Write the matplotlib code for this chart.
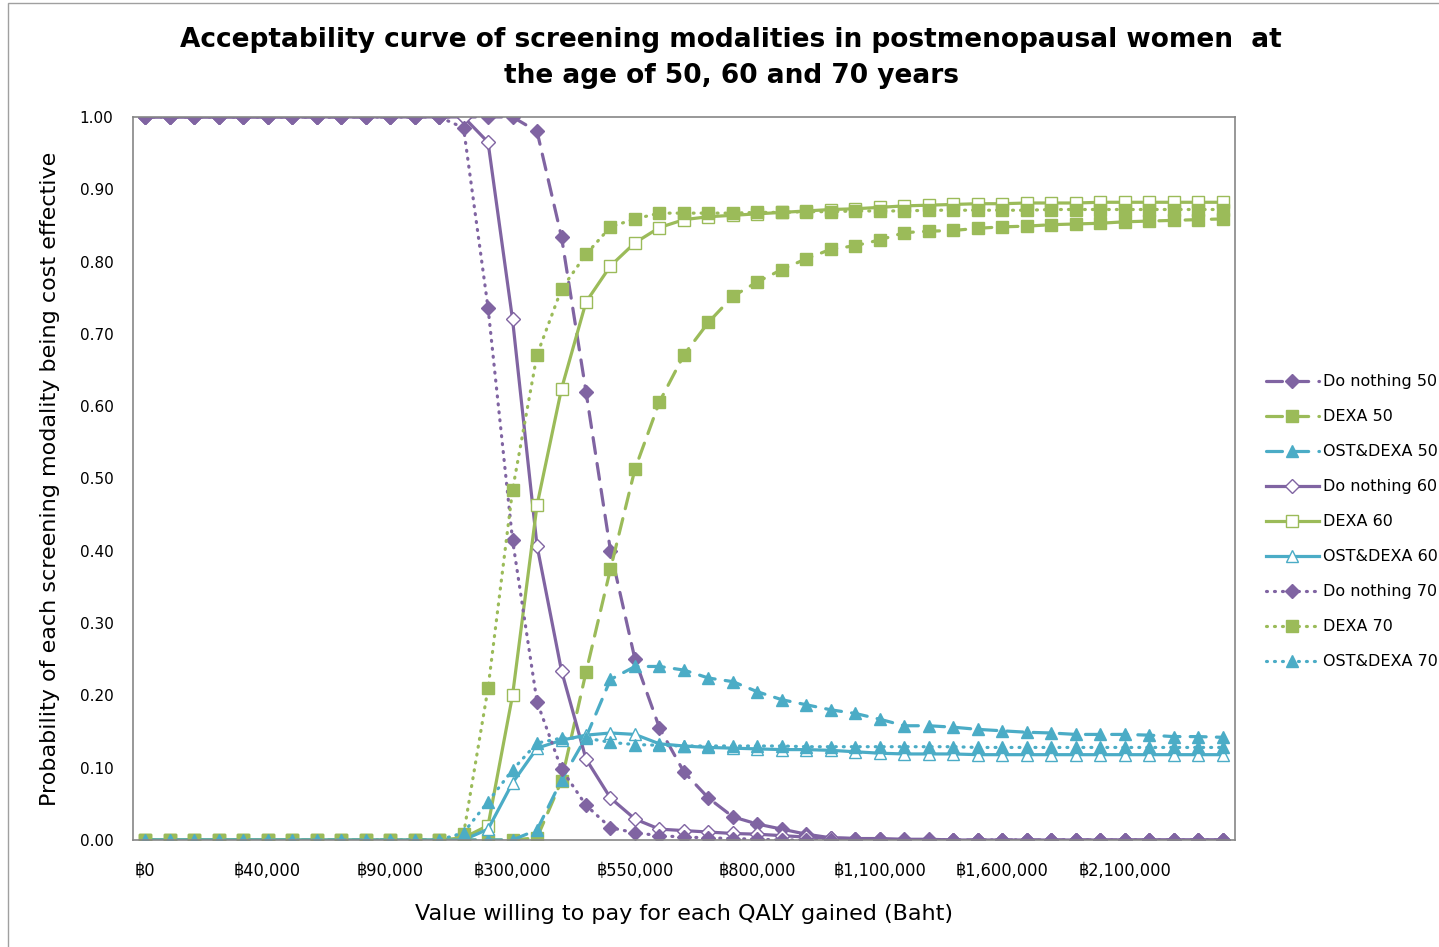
import matplotlib
matplotlib.use("Agg")
import matplotlib.pyplot as plt
from matplotlib.patches import Rectangle

# willingness to pay per QALY (Baht), one category per point
wtp = [0, 5000, 10000, 20000, 30000, 40000,
       50000, 60000, 70000, 80000, 90000,
       100000, 150000, 200000, 250000, 300000,
       350000, 400000, 450000, 500000, 550000,
       600000, 650000, 700000, 750000, 800000,
       900000, 950000, 1000000, 1050000, 1100000,
       1200000, 1300000, 1400000, 1500000, 1600000,
       1700000, 1800000, 1900000, 2000000, 2100000,
       2200000, 2300000, 2400000, 2500000]

ones = [1.0] * 13
zeros = [0.0] * 13

do_nothing_50 = ones + [1.0, 1.0, 1.0, 0.98, 0.834, 0.62, 0.40, 0.25, 0.155, 0.094,
                        0.058, 0.032, 0.022, 0.015, 0.008, 0.003, 0.002, 0.001] + [0.0] * 14
dexa_50 = zeros + [0.0, 0.0, 0.0, 0.003, 0.082, 0.232, 0.375, 0.513, 0.606, 0.671,
                   0.716, 0.752, 0.772, 0.789, 0.804, 0.817, 0.822, 0.830, 0.840,
                   0.842, 0.843, 0.846, 0.848, 0.849, 0.851, 0.852, 0.853, 0.855,
                   0.856, 0.857, 0.858, 0.859]
ost_50 = zeros + [0.0, 0.0, 0.0, 0.014, 0.083, 0.142, 0.222, 0.240, 0.240, 0.235,
                  0.224, 0.219, 0.205, 0.194, 0.187, 0.180, 0.175, 0.167, 0.158,
                  0.158, 0.156, 0.153, 0.151, 0.149, 0.148, 0.146, 0.146, 0.146,
                  0.145, 0.143, 0.143, 0.142]

do_nothing_60 = ones + [1.0, 0.965, 0.72, 0.407, 0.234, 0.112, 0.058, 0.029, 0.015,
                        0.013, 0.011, 0.009, 0.008, 0.006, 0.004, 0.003, 0.002, 0.002,
                        0.001, 0.001] + [0.0] * 12
dexa_60 = zeros + [0.003, 0.02, 0.20, 0.463, 0.624, 0.744, 0.794, 0.826, 0.847, 0.858,
                   0.862, 0.864, 0.866, 0.868, 0.870, 0.872, 0.873, 0.875, 0.877,
                   0.878, 0.879, 0.880, 0.880, 0.881, 0.881, 0.881, 0.882, 0.882,
                   0.882, 0.882, 0.882, 0.882]
ost_60 = zeros + [0.0, 0.015, 0.079, 0.127, 0.138, 0.145, 0.148, 0.146, 0.133, 0.130,
                  0.128, 0.127, 0.126, 0.125, 0.125, 0.124, 0.122, 0.120, 0.119,
                  0.119, 0.119, 0.118, 0.118, 0.118, 0.118, 0.118, 0.118, 0.118,
                  0.118, 0.118, 0.118, 0.118]

do_nothing_70 = ones[:-1] + [1.0, 0.985, 0.736, 0.415, 0.191, 0.098, 0.048, 0.017,
                             0.010, 0.006, 0.004, 0.003, 0.002, 0.001] + [0.0] * 19
dexa_70 = zeros + [0.008, 0.21, 0.484, 0.671, 0.762, 0.81, 0.848, 0.859, 0.867, 0.867,
                   0.867, 0.867, 0.868, 0.868, 0.869, 0.869, 0.870, 0.870, 0.870,
                   0.871, 0.871, 0.871, 0.871, 0.871, 0.872, 0.872, 0.872, 0.872,
                   0.872, 0.872, 0.872, 0.872]
ost_70 = zeros + [0.01, 0.053, 0.097, 0.134, 0.141, 0.141, 0.135, 0.132, 0.131, 0.130,
                  0.130, 0.130, 0.130, 0.130, 0.129, 0.129, 0.129, 0.129, 0.129,
                  0.129, 0.129, 0.128, 0.128, 0.128, 0.128, 0.128, 0.128, 0.128,
                  0.128, 0.128, 0.128, 0.128]

purple = "#8064A2"
green = "#9BBB59"
cyan = "#4BACC6"

dash = (0, (5, 3.2))
dot = (0, (0.3, 2.2))

# label, values, colour, line style, marker, filled
series = [
    ("Do nothing 50", do_nothing_50, purple, dash, "D", True),
    ("DEXA 50", dexa_50, green, dash, "s", True),
    ("OST&DEXA 50", ost_50, cyan, dash, "^", True),
    ("Do nothing 60", do_nothing_60, purple, "-", "D", False),
    ("DEXA 60", dexa_60, green, "-", "s", False),
    ("OST&DEXA 60", ost_60, cyan, "-", "^", False),
    ("Do nothing 70", do_nothing_70, purple, dot, "D", True),
    ("DEXA 70", dexa_70, green, dot, "s", True),
    ("OST&DEXA 70", ost_70, cyan, dot, "^", True),
]

fig = plt.figure(figsize=(14.39, 9.47), dpi=100)
ax = fig.add_axes([0.0924, 0.113, 0.7658, 0.7635])

# outer chart border
fig.patches.append(Rectangle((0.0056, -0.01), 1.1, 1.007, transform=fig.transFigure,
                             fill=False, edgecolor="#a0a0a0", lw=1.0))

x = list(range(len(wtp)))
for label, vals, col, ls, mk, filled in series:
    ms = 7.5 if mk == "D" else 8
    ax.plot(x, vals, color=col, linestyle=ls, lw=2.3, marker=mk, markersize=ms,
            markerfacecolor=col if filled else "white", markeredgecolor=col,
            markeredgewidth=1.0, dash_capstyle="round", label=label)

ax.set_xlim(-0.5, len(wtp) - 0.5)
ax.set_ylim(0, 1.0)
ax.set_yticks([i / 10 for i in range(11)])
ax.set_yticklabels(["%.2f" % (i / 10) for i in range(11)], fontsize=11)
tick_idx = list(range(0, 41, 5))
ax.set_xticks(tick_idx)
ax.set_xticklabels(["\u0e3f{:,}".format(wtp[i]) for i in tick_idx],
                   fontstretch="condensed", fontsize=13)
ax.tick_params(axis="y", length=0, pad=14)
ax.tick_params(axis="x", length=0, pad=16)
for s in ax.spines.values():
    s.set_color("#868686")
    s.set_linewidth(1.2)

ax.set_xlabel("Value willing to pay for each QALY gained (Baht)", fontsize=16, labelpad=17)
ax.set_ylabel("Probability of each screening modality being cost effective", fontsize=16,
              labelpad=14)
fig.text(0.508, 0.972, "Acceptability curve of screening modalities in postmenopausal women  at\nthe age of 50, 60 and 70 years",
         ha="center", va="top", fontsize=19, fontweight="bold", linespacing=1.5)

ax.legend(loc="center left", bbox_to_anchor=(1.018, 0.44), frameon=False, fontsize=11.5,
          handlelength=3.3, handletextpad=0.25, labelspacing=1.25, borderpad=0.2)

fig.savefig("out.png", dpi=100)
